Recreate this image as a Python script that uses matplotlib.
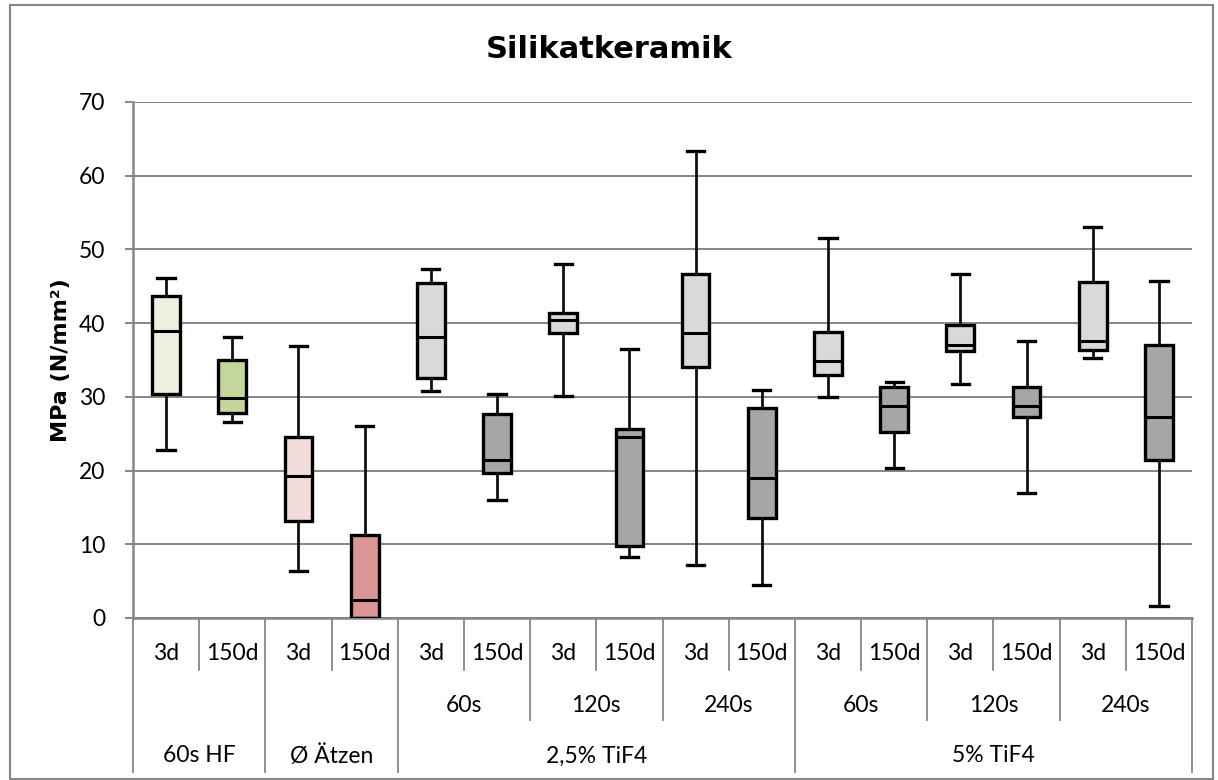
import matplotlib
matplotlib.use("Agg")
import matplotlib.pyplot as plt
from matplotlib.patches import Rectangle
from matplotlib.lines import Line2D

# ---- data ----
categories = ["3d", "150d"] * 8
times = ["60s", "120s", "240s", "60s", "120s", "240s"]
groups = ["60s HF", "Ø Ätzen", "2,5% TiF4", "5% TiF4"]
whisker_high = [46.1, 38.1, 36.9, 26.1, 47.3, 30.4, 48.0, 36.5, 63.3, 30.9, 51.5, 32.0, 46.6, 37.6, 53.1, 45.7]
q3_values    = [43.7, 35.0, 24.6, 11.3, 45.4, 27.7, 41.4, 25.7, 46.6, 28.5, 38.8, 31.4, 39.8, 31.4, 45.6, 37.0]
medians      = [38.9, 29.8, 19.3,  2.4, 38.1, 21.5, 40.4, 24.6, 38.6, 19.0, 34.9, 28.7, 37.1, 28.7, 37.6, 27.3]
q1_values    = [30.4, 27.8, 13.1,  0.0, 32.5, 19.7, 38.7,  9.7, 34.1, 13.5, 33.0, 25.2, 36.2, 27.2, 36.3, 21.4]
whisker_low  = [22.8, 26.6,  6.4,  0.0, 30.8, 16.0, 30.1,  8.3,  7.2,  4.5, 30.0, 20.3, 31.8, 16.9, 35.3,  1.6]
box_colors = ["#EBF1DE", "#C3D69B", "#F2DCDB", "#D99694"] + ["#D9D9D9", "#A6A6A6"] * 6

W, H = 1218, 780
fig = plt.figure(figsize=(W / 100, H / 100), dpi=100)

# outer chart border
fig.add_artist(Rectangle((10 / W, 1 / H), (1213 - 10) / W, (775 - 1) / H,
                         transform=fig.transFigure, fill=False,
                         edgecolor="#868686", linewidth=1.5))

ax_l, ax_r, ax_t, ax_b = 133, 1192, 102, 618
ax = fig.add_axes([ax_l / W, 1 - ax_b / H, (ax_r - ax_l) / W, (ax_b - ax_t) / H])

grid_col = "#868686"
stats = []
for i in range(len(medians)):
    stats.append(dict(med=medians[i], q1=q1_values[i], q3=q3_values[i],
                      whislo=whisker_low[i], whishi=whisker_high[i], fliers=[]))
positions = [i + 0.5 for i in range(len(stats))]
bp = ax.bxp(stats, positions=positions, widths=0.42, patch_artist=True,
            showfliers=False,
            boxprops=dict(edgecolor="black", linewidth=2.4),
            medianprops=dict(color="black", linewidth=2.2),
            whiskerprops=dict(color="#111111", linewidth=2.0),
            capprops=dict(color="black", linewidth=2.4),
            capwidths=0.26, zorder=3)
for patch, c in zip(bp["boxes"], box_colors):
    patch.set_facecolor(c)

ax.set_xlim(0, 16)
ax.set_ylim(0, 70)
ax.set_yticks(range(0, 71, 10))
ax.yaxis.grid(True, color=grid_col, linewidth=1.4)
ax.set_axisbelow(True)
ax.set_xticks([])
for s in ["top", "right"]:
    ax.spines[s].set_visible(False)
ax.spines["left"].set_color(grid_col)
ax.spines["left"].set_linewidth(1.8)
ax.spines["bottom"].set_color(grid_col)
ax.spines["bottom"].set_linewidth(1.8)
ax.tick_params(axis="y", length=6, width=1.4, color=grid_col, labelsize=16.5,
               labelcolor="black", pad=14)
for lab in ax.get_yticklabels():
    lab.set_fontfamily("Lato")

fig.text(61 / W, 1 - 360 / H, "MPa (N/mm²)", rotation=90, ha="center", va="center",
         fontsize=16, fontweight="bold", fontfamily="DejaVu Sans")
fig.text(0.5, 1 - 50 / H, "Silikatkeramik", ha="center", va="center",
         fontsize=22, fontweight="bold", fontfamily="DejaVu Sans")

# category table below the axis
axh = ax_b - ax_t
def yax(px):
    return -(px - ax_b) / axh

tr = ax.get_xaxis_transform()
row1_b, row2_b, row3_b = yax(670), yax(720), yax(772)
full = {0, 2, 4, 10, 16}
for b in range(0, 17):
    if b in full:
        yb = row3_b
    elif b % 2 == 1:
        yb = row1_b
    else:
        yb = row2_b
    ax.add_line(Line2D([b, b], [0, yb], transform=tr, color=grid_col,
                       linewidth=1.3, clip_on=False))

lab_size = 16.5
for i, c in enumerate(categories):
    ax.text(i + 0.5, yax(653), c, transform=tr, ha="center", va="center",
            fontsize=lab_size, fontfamily="Lato")
for j, t in enumerate(times):
    ax.text(5 + 2 * j, yax(706), t, transform=tr, ha="center", va="center",
            fontsize=lab_size, fontfamily="Lato")
group_centers = [1, 3, 7, 13]
for g, xc in zip(groups, group_centers):
    ax.text(xc, yax(756), g, transform=tr, ha="center", va="center",
            fontsize=lab_size, fontfamily="Lato")

fig.savefig("out.png", dpi=100)
